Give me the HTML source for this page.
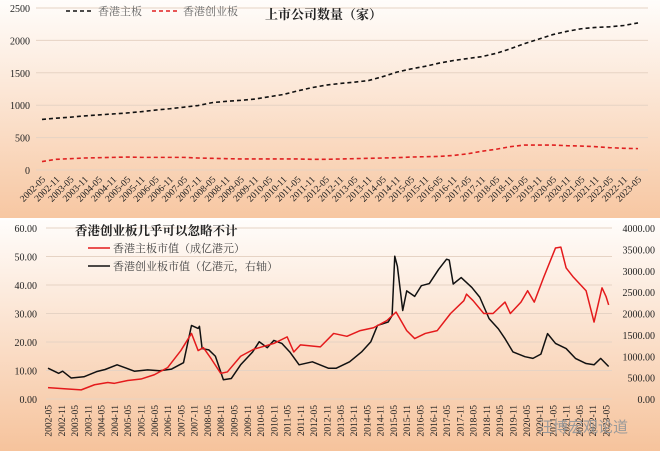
<!DOCTYPE html>
<html><head><meta charset="utf-8">
<style>
body{margin:0;width:660px;height:451px;overflow:hidden;background:#fff;font-family:"Liberation Serif","Noto Serif CJK SC",serif;}
svg{display:block}
</style></head>
<body>
<svg id="c" width="660" height="451">
<defs>
<linearGradient id="g1" x1="0" y1="0" x2="0" y2="1"><stop offset="0" stop-color="#fffdfb"/><stop offset="1" stop-color="#f7c7a2"/></linearGradient>
<linearGradient id="g2" x1="0" y1="0" x2="0" y2="1"><stop offset="0" stop-color="#fffdfb"/><stop offset="1" stop-color="#f6c39c"/></linearGradient>
</defs>
<rect x="0" y="0" width="660" height="218" fill="url(#g1)"/>
<rect x="0" y="220" width="660" height="231" fill="url(#g2)"/>
<g id="topg"></g><g id="botg"></g>
<text x="628" y="432" font-size="15" fill="#9a9a9a" text-anchor="end" font-family="Liberation Sans,Noto Sans CJK SC,sans-serif">汪博宏观论道</text>
</svg>
<script>
const categories=[];for(let y=2002;y<=2023;y++){categories.push(y+'-05');if(y<2023)categories.push(y+'-11');}
const mainCount=[780,800,815,835,850,865,880,900,925,945,970,995,1040,1060,1075,1095,1130,1165,1220,1270,1310,1335,1355,1380,1440,1510,1560,1600,1650,1690,1720,1750,1800,1870,1950,2020,2090,2140,2180,2200,2210,2230,2270];
const gemCount=[130,165,175,185,190,195,200,195,195,195,195,185,180,175,170,170,170,170,170,165,165,170,175,180,185,190,200,205,210,225,250,290,320,360,385,385,385,375,370,360,345,335,330];
const topTicks=[0,500,1000,1500,2000,2500];
const leftTicks=[0,10,20,30,40,50,60];
const rightTicks=[0,500,1000,1500,2000,2500,3000,3500,4000];
const mainCapT=[0,1.5,2.5,3.5,4.5,5,6,7,8,9,10,10.8,11.3,11.7,12.3,13,13.5,14.5,15.5,17,18,18.5,19,20.5,21.5,22.5,23.5,24.5,25.5,26.2,27,27.6,28.4,29.3,30.3,31.3,31.5,32,32.8,33.5,34.4,34.8,35.6,36.1,36.6,37.3,38.2,38.6,39,39.5,40.5,41.1,41.4,41.7,42,42.2];
const mainCap=[4,3.5,3.2,5,5.8,5.5,6.5,7,8.5,11,17,23,17,18,14,9,9.5,15,17.5,19.5,21.8,16.5,19,18.3,23,22,24,25,27.5,30.5,24,21.2,23,24,30,34.5,36.8,34.5,30,30,34,30,34,38,34,42.6,53,53.3,46,43,38,27,33,39,36,33];
const gemCapT=[0,0.8,1.1,1.75,2.7,3.65,4.3,5.2,5.9,6.5,7.5,8.4,9.3,10.2,10.8,11.3,11.4,11.6,12.1,12.6,13.2,13.8,14.5,15.4,15.9,16.5,17,17.6,18.2,18.9,19.9,21.1,21.7,22.7,23.6,24.3,24.8,25.6,25.9,26.1,26.3,26.7,27,27.6,28.1,28.7,29.4,30,30.2,30.5,31.1,31.9,32.5,33.2,33.9,34.4,35,35.9,36.5,37.1,37.6,38.2,39,39.7,40.5,41.1,41.6,42.2];
const gemCap=[720,600,650,490,520,640,690,800,720,650,680,660,700,850,1720,1650,1700,1180,1150,1000,450,480,800,1100,1340,1200,1370,1300,1100,800,870,720,720,870,1100,1340,1720,1800,1950,3340,3100,2070,2530,2400,2650,2700,3030,3270,3250,2690,2840,2610,2380,1880,1640,1410,1100,990,950,1050,1530,1300,1180,950,830,800,950,760];
const ns='http://www.w3.org/2000/svg';
function el(p,t,a){const e=document.createElementNS(ns,t);for(const k in a)e.setAttribute(k,a[k]);p.appendChild(e);return e;}
const gTop=document.getElementById('topg'),gBot=document.getElementById('botg');
const tx0=42,tx1=638,ty=v=>170-v*(162/2500),txi=i=>tx0+i*(tx1-tx0)/(categories.length-1);
topTicks.forEach(v=>{
 const l=el(gTop,'line',{x1:tx0-6,x2:648,y1:ty(v),y2:ty(v),stroke:'#e6d3c4','stroke-width':1});
 
 
 const t=el(gTop,'text',{x:30,y:ty(v)+4,'font-size':10,'text-anchor':'end',fill:'#222'});t.textContent=v;
 
 
});
categories.forEach((c,i)=>{
 const x=txi(i);const t=el(gTop,'text',{x:x+4,y:180,'font-size':9.5,'text-anchor':'end',fill:'#222',transform:`rotate(-45 ${x+4} 180)`});t.textContent=c;
 
 
});
function poly(g,xs,ys,attrs,name){const p=el(g,'polyline',Object.assign({points:xs.map((x,i)=>x+','+ys[i]).join(' '),fill:'none'},attrs));
 
 }
poly(gTop,mainCount.map((v,i)=>txi(i)),mainCount.map(ty),{stroke:'#111','stroke-width':1.6,'stroke-dasharray':'4 3'},'main-board-count-line');
poly(gTop,gemCount.map((v,i)=>txi(i)),gemCount.map(ty),{stroke:'#e02020','stroke-width':1.6,'stroke-dasharray':'4 3'},'gem-count-line');
let lg=el(gTop,'g',{});


el(lg,'line',{x1:66,x2:92,y1:11,y2:11,stroke:'#111','stroke-width':1.6,'stroke-dasharray':'4 3'});
let t=el(lg,'text',{x:98,y:15,'font-size':11,fill:'#666'});t.textContent='香港主板';
lg=el(gTop,'g',{});


el(lg,'line',{x1:152,x2:178,y1:11,y2:11,stroke:'#e02020','stroke-width':1.6,'stroke-dasharray':'4 3'});
t=el(lg,'text',{x:183,y:15,'font-size':11,fill:'#666'});t.textContent='香港创业板';
t=el(gTop,'text',{x:265,y:19,'font-size':13,'font-weight':'bold',fill:'#222'});t.textContent='上市公司数量（家）';


const bx0=48,bx1=606,byL=v=>399-v*(171/60),byR=v=>399-v*(171/4000),bxi=i=>bx0+i*(bx1-bx0)/42;
leftTicks.forEach(v=>{
 const l=el(gBot,'line',{x1:bx0-2,x2:612,y1:byL(v),y2:byL(v),stroke:'#e6d3c4','stroke-width':1});
 
 
 const t=el(gBot,'text',{x:37,y:byL(v)+4,'font-size':10,'text-anchor':'end',fill:'#222'});t.textContent=v.toFixed(2);
 
 
});
rightTicks.forEach(v=>{
 const t=el(gBot,'text',{x:655,y:byR(v)+4,'font-size':10,'text-anchor':'end',fill:'#222'});t.textContent=v.toFixed(2);
 
 
});
categories.forEach((c,i)=>{
 const x=bxi(i);const t=el(gBot,'text',{x:x+3.5,y:405,'font-size':9.5,'text-anchor':'end',fill:'#222',transform:`rotate(-90 ${x+3.5} 405)`});t.textContent=c;
 
 
});
poly(gBot,gemCapT.map(bxi),gemCap.map(byR),{stroke:'#111','stroke-width':1.5,'stroke-linejoin':'round'},'gem-market-cap-line');
poly(gBot,mainCapT.map(bxi),mainCap.map(byL),{stroke:'#e41a1c','stroke-width':1.5,'stroke-linejoin':'round'},'main-board-market-cap-line');
t=el(gBot,'text',{x:75,y:235,'font-size':12.5,'font-weight':'bold',fill:'#222'});t.textContent='香港创业板几乎可以忽略不计';


lg=el(gBot,'g',{});


el(lg,'line',{x1:88,x2:110,y1:248,y2:248,stroke:'#e41a1c','stroke-width':1.6});
t=el(lg,'text',{x:113,y:252,'font-size':11,fill:'#444'});t.textContent='香港主板市值（成亿港元）';
lg=el(gBot,'g',{});


el(lg,'line',{x1:88,x2:110,y1:266,y2:266,stroke:'#111','stroke-width':1.6});
t=el(lg,'text',{x:113,y:270,'font-size':11,fill:'#444'});t.textContent='香港创业板市值（亿港元，右轴）';
</script>
</body></html>
